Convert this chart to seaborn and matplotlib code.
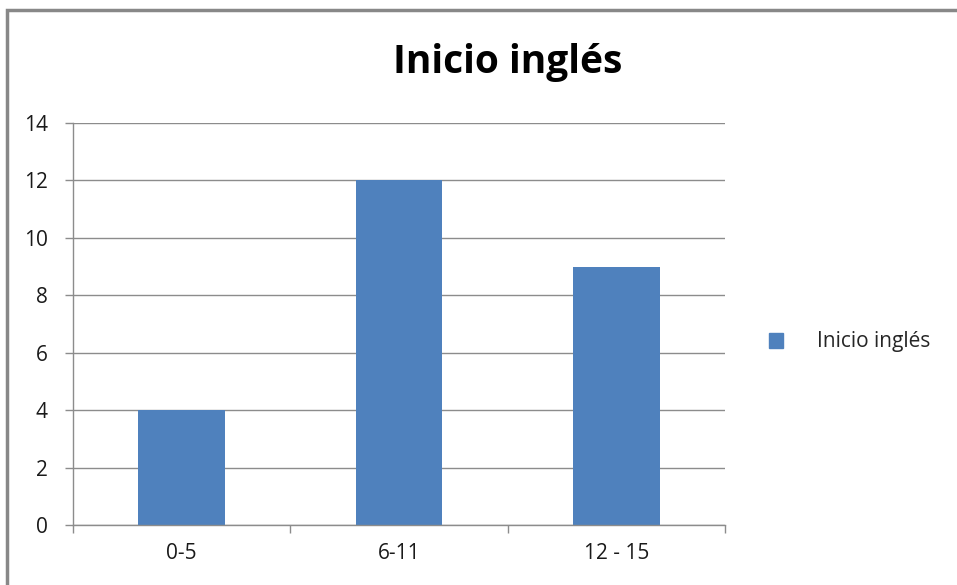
import matplotlib
matplotlib.use('Agg')
import matplotlib.pyplot as plt
import matplotlib.patches as mpatches
import seaborn as sns
import pandas as pd

# Данные графика
categories = ['0-5', '6-11', '12 - 15']
values = [4, 12, 9]
series_name = 'Inicio inglés'
y_ticks = [0, 2, 4, 6, 8, 10, 12, 14]

bar_color = '#4F81BD'
grid_color = '#8C8C8C'

sns.set_style('white')
plt.rcParams['font.family'] = ['Open Sans', 'DejaVu Sans']

df = pd.DataFrame({'rango': categories, 'n': values})

fig = plt.figure(figsize=(9.57, 5.85), dpi=100)
ax = fig.add_axes([73 / 957, 60 / 585, 652 / 957, 402 / 585])

sns.barplot(data=df, x='rango', y='n', color=bar_color, width=0.4,
            saturation=1, ax=ax, edgecolor='none')

ax.set_xlim(-0.5, len(categories) - 0.5)
ax.set_ylim(0, 14)
ax.set_yticks(y_ticks)
ax.set_yticklabels([str(t) for t in y_ticks], fontsize=15, color='#1a1a1a')
ax.set_xticks(range(len(categories)))
ax.set_xticklabels(categories, fontsize=15, color='#1a1a1a')
ax.set_xlabel('')
ax.set_ylabel('')

# линии сетки
ax.yaxis.grid(True, color=grid_color, linewidth=1)
ax.set_axisbelow(True)
for s in ['top', 'right']:
    ax.spines[s].set_visible(False)
for s in ['left', 'bottom']:
    ax.spines[s].set_color(grid_color)
    ax.spines[s].set_linewidth(1)

# деления: по y слева, по x на границах категорий
ax.tick_params(axis='y', length=6, width=1, color=grid_color, pad=12, left=True)
ax.tick_params(axis='x', which='major', length=0, pad=13)
ax.set_xticks([i - 0.5 for i in range(len(categories) + 1)], minor=True)
ax.tick_params(axis='x', which='minor', length=6, width=1, color=grid_color, bottom=True)

fig.text(508 / 957, 523 / 585, series_name, ha='center', va='center',
         fontsize=28, fontweight='bold', color='#000000')

handle = mpatches.Patch(color=bar_color)
fig.legend([handle], [series_name], loc='center left',
           bbox_to_anchor=(750 / 957, 243 / 585), frameon=False,
           fontsize=15, handlelength=0.7, handleheight=0.7, handletextpad=1.6)

# рамка вокруг диаграммы
fig.patches.append(mpatches.Rectangle((7 / 957, -0.05), 1.1, 1.05 - 10 / 585,
                                      transform=fig.transFigure, fill=False,
                                      edgecolor='#888888', linewidth=2.5))

fig.savefig('out.png', dpi=100)
